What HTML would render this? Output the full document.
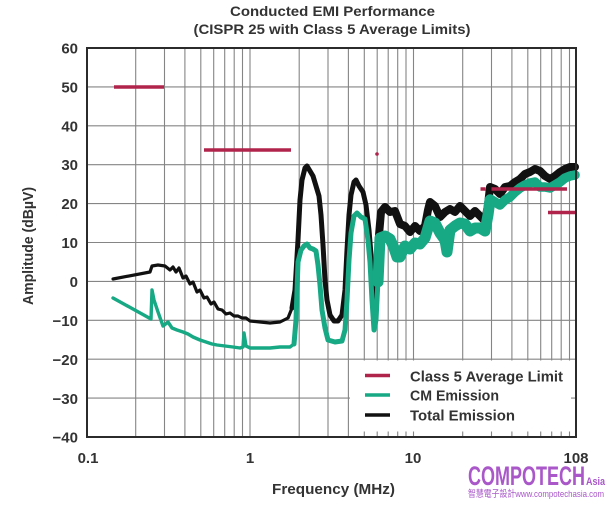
<!DOCTYPE html>
<html>
<head>
<meta charset="utf-8">
<style>
  html,body{margin:0;padding:0;background:#fff;}
  svg{display:block;}
  text{font-family:"Liberation Sans","Noto Sans CJK TC",sans-serif;font-weight:bold;fill:#333;}
</style>
</head>
<body>
<svg width="609" height="505" viewBox="0 0 609 505" xmlns="http://www.w3.org/2000/svg">
  <rect x="0" y="0" width="609" height="505" fill="#fff"/>

  <!-- Title -->
  <text x="332.5" y="16" font-size="14" text-anchor="middle" textLength="205" lengthAdjust="spacingAndGlyphs">Conducted EMI Performance</text>
  <text x="332" y="34" font-size="14" text-anchor="middle" textLength="277" lengthAdjust="spacingAndGlyphs">(CISPR 25 with Class 5 Average Limits)</text>

  <!-- Grid -->
  <g stroke="#858585" stroke-width="1.1" fill="none">
    <line x1="135.7" y1="48" x2="135.7" y2="437"/>
    <line x1="164.5" y1="48" x2="164.5" y2="437"/>
    <line x1="184.9" y1="48" x2="184.9" y2="437"/>
    <line x1="200.8" y1="48" x2="200.8" y2="437"/>
    <line x1="213.7" y1="48" x2="213.7" y2="437"/>
    <line x1="224.7" y1="48" x2="224.7" y2="437"/>
    <line x1="234.2" y1="48" x2="234.2" y2="437"/>
    <line x1="242.5" y1="48" x2="242.5" y2="437"/>
    <line x1="250" y1="48" x2="250" y2="437"/>
    <line x1="299.2" y1="48" x2="299.2" y2="437"/>
    <line x1="328" y1="48" x2="328" y2="437"/>
    <line x1="348.4" y1="48" x2="348.4" y2="437"/>
    <line x1="364.3" y1="48" x2="364.3" y2="437"/>
    <line x1="377.2" y1="48" x2="377.2" y2="437"/>
    <line x1="388.2" y1="48" x2="388.2" y2="437"/>
    <line x1="397.7" y1="48" x2="397.7" y2="437"/>
    <line x1="406" y1="48" x2="406" y2="437"/>
    <line x1="413.5" y1="48" x2="413.5" y2="437"/>
    <line x1="462.7" y1="48" x2="462.7" y2="437"/>
    <line x1="491.5" y1="48" x2="491.5" y2="437"/>
    <line x1="511.9" y1="48" x2="511.9" y2="437"/>
    <line x1="527.8" y1="48" x2="527.8" y2="437"/>
    <line x1="540.7" y1="48" x2="540.7" y2="437"/>
    <line x1="551.7" y1="48" x2="551.7" y2="437"/>
    <line x1="561.2" y1="48" x2="561.2" y2="437"/>
    <line x1="569.5" y1="48" x2="569.5" y2="437"/>

    <line x1="87" y1="86.9" x2="576" y2="86.9"/>
    <line x1="87" y1="125.8" x2="576" y2="125.8"/>
    <line x1="87" y1="164.7" x2="576" y2="164.7"/>
    <line x1="87" y1="203.6" x2="576" y2="203.6"/>
    <line x1="87" y1="242.5" x2="576" y2="242.5"/>
    <line x1="87" y1="281.4" x2="576" y2="281.4"/>
    <line x1="87" y1="320.3" x2="576" y2="320.3"/>
    <line x1="87" y1="359.2" x2="576" y2="359.2"/>
    <line x1="87" y1="398.1" x2="576" y2="398.1"/>
  </g>

  <!-- Total Emission (black) -->
  <g fill="none" stroke="#111" stroke-linejoin="round" stroke-linecap="round">
    <polyline stroke-width="3.2" points="113,279 150,272 152,266 158,265 165,266 170,270 173,267 176,272 179,268 183,278 186,276 190,284 193,282 197,292 200,290 204,298 207,297 211,304 214,302 218,309 222,310 226,314 230,313 234,316 238,316 242,318 246,318 250,321 260,322 270,323 280,322 288,318 292,308 295,290"/>
    <polyline stroke-width="5" points="292,308 295,290 298,240 300,200 302,180 305,168 307,166 310,171 313,176 316,186 319,196 321,215 323,245 325,280 327,300 330,315 334,321 338,321 342,315 345,290 347,250 349,215 351,195 354,182 356,180 359,186 363,192 366,205 369,230 371,255 373,290 375,312 377,290 379,235 381,212"/>
    <polyline stroke-width="8" points="379,235 381,212 385,207 390,212 395,211 400,224 405,226 410,232 415,226 420,231 425,226 428,210 430,202 435,206 440,217 445,212 450,209 455,212 460,206 465,211 470,216 475,211 480,216 485,221 488,205 490,187 495,189 500,194 505,187 510,186 515,182 520,179 525,174 530,172 535,169 540,171 545,176 550,179 555,176 560,172 565,169 570,167 575,167"/>
  </g>

  <!-- CM Emission (green) -->
  <g fill="none" stroke="#17a884" stroke-linejoin="round" stroke-linecap="round">
    <polyline stroke-width="3.4" points="113,298 151,319 152,290 154,300 158,312 163,326 168,322 172,328 177,330 183,332 188,334 193,337 200,340 206,342 212,344 217,345 225,346 233,347 240,348 243,347 244,333 246,346 250,348 260,348 270,348 280,347 290,347 294,344 296,320"/>
    <polyline stroke-width="5" points="294,344 296,320 298,262 301,250 304,246 307,244 310,248 313,249 316,251 318,265 320,285 322,310 325,328 328,340 335,342 342,341 345,330 347,300 349,260 351,233 354,216 357,213 361,217 365,219 368,240 370,262 372,300 374,330 376,320 378,280 380,243"/>
    <polyline stroke-width="11" points="378,282 380,238 385,236 390,239 394,248 397,257 400,257 403,250 405,246 410,249 415,243 420,244 425,238 428,228 430,221 435,223 440,233 445,240 447,252 450,230 455,226 460,223 465,224 470,231 475,228 480,228 485,231 488,215 490,200"/>
    <polyline stroke-width="9.5" points="488,215 490,199 495,202 500,205 505,200 510,197 515,192 520,188 525,185 530,183 535,182 540,187 545,187 550,188 555,185 560,182 565,178 570,176 575,175"/>
  </g>

  <!-- Class 5 limits (red) -->
  <g stroke="#b0244c" stroke-width="3.5" fill="none">
    <line x1="114" y1="87" x2="164" y2="87"/>
    <line x1="204" y1="150" x2="291" y2="150"/>
    <line x1="480.5" y1="189" x2="485.5" y2="189"/>
    <line x1="491.5" y1="189" x2="567" y2="189"/>
    <line x1="548" y1="212.5" x2="576" y2="212.5"/>
  </g>
  <circle cx="377" cy="154" r="1.8" fill="#b0244c"/>

  <!-- Legend box -->
  <rect x="350" y="360.5" width="221" height="71" fill="#fff"/>
  <line x1="365" y1="375.5" x2="390" y2="375.5" stroke="#b0244c" stroke-width="3.5"/>
  <line x1="365" y1="395" x2="390" y2="395" stroke="#17a884" stroke-width="3.5"/>
  <line x1="365" y1="415" x2="390" y2="415" stroke="#111" stroke-width="3.5"/>
  <text x="410" y="381.5" font-size="14.5" textLength="153" lengthAdjust="spacingAndGlyphs">Class 5 Average Limit</text>
  <text x="410" y="400.5" font-size="14.5" textLength="89" lengthAdjust="spacingAndGlyphs">CM Emission</text>
  <text x="410" y="420.5" font-size="14.5" textLength="105" lengthAdjust="spacingAndGlyphs">Total Emission</text>

  <!-- Plot border -->
  <rect x="87" y="48" width="489" height="389" fill="none" stroke="#2b2b2b" stroke-width="2"/>

  <!-- Y tick labels -->
  <g font-size="15" text-anchor="end">
    <text x="78" y="53.5">60</text>
    <text x="78" y="92.5">50</text>
    <text x="78" y="131.5">40</text>
    <text x="78" y="170">30</text>
    <text x="78" y="209">20</text>
    <text x="78" y="248">10</text>
    <text x="78" y="287">0</text>
    <text x="78" y="326">−10</text>
    <text x="78" y="365">−20</text>
    <text x="78" y="404">−30</text>
    <text x="78" y="442.5">−40</text>
  </g>

  <!-- X tick labels -->
  <g font-size="15" text-anchor="middle">
    <text x="88" y="463">0.1</text>
    <text x="250" y="463">1</text>
    <text x="413" y="463">10</text>
    <text x="576" y="463">108</text>
  </g>

  <!-- Axis titles -->
  <text x="333.5" y="494" font-size="14.5" text-anchor="middle" textLength="123" lengthAdjust="spacingAndGlyphs">Frequency (MHz)</text>
  <text transform="translate(33,246) rotate(-90)" x="0" y="0" font-size="14.5" text-anchor="middle" textLength="118" lengthAdjust="spacingAndGlyphs">Amplitude (dBµV)</text>

  <!-- Watermark -->
  <text x="468" y="485" font-size="27" textLength="117" lengthAdjust="spacingAndGlyphs" style="fill:#a957c9;">COMPOTECH</text>
  <text x="586" y="485" font-size="11" textLength="19" lengthAdjust="spacingAndGlyphs" style="fill:#a957c9;">Asia</text>
  <text x="468" y="497" font-size="9.5" textLength="136" lengthAdjust="spacingAndGlyphs" style="fill:#a957c9;font-weight:normal;">智慧電子設計www.compotechasia.com</text>
</svg>
</body>
</html>
